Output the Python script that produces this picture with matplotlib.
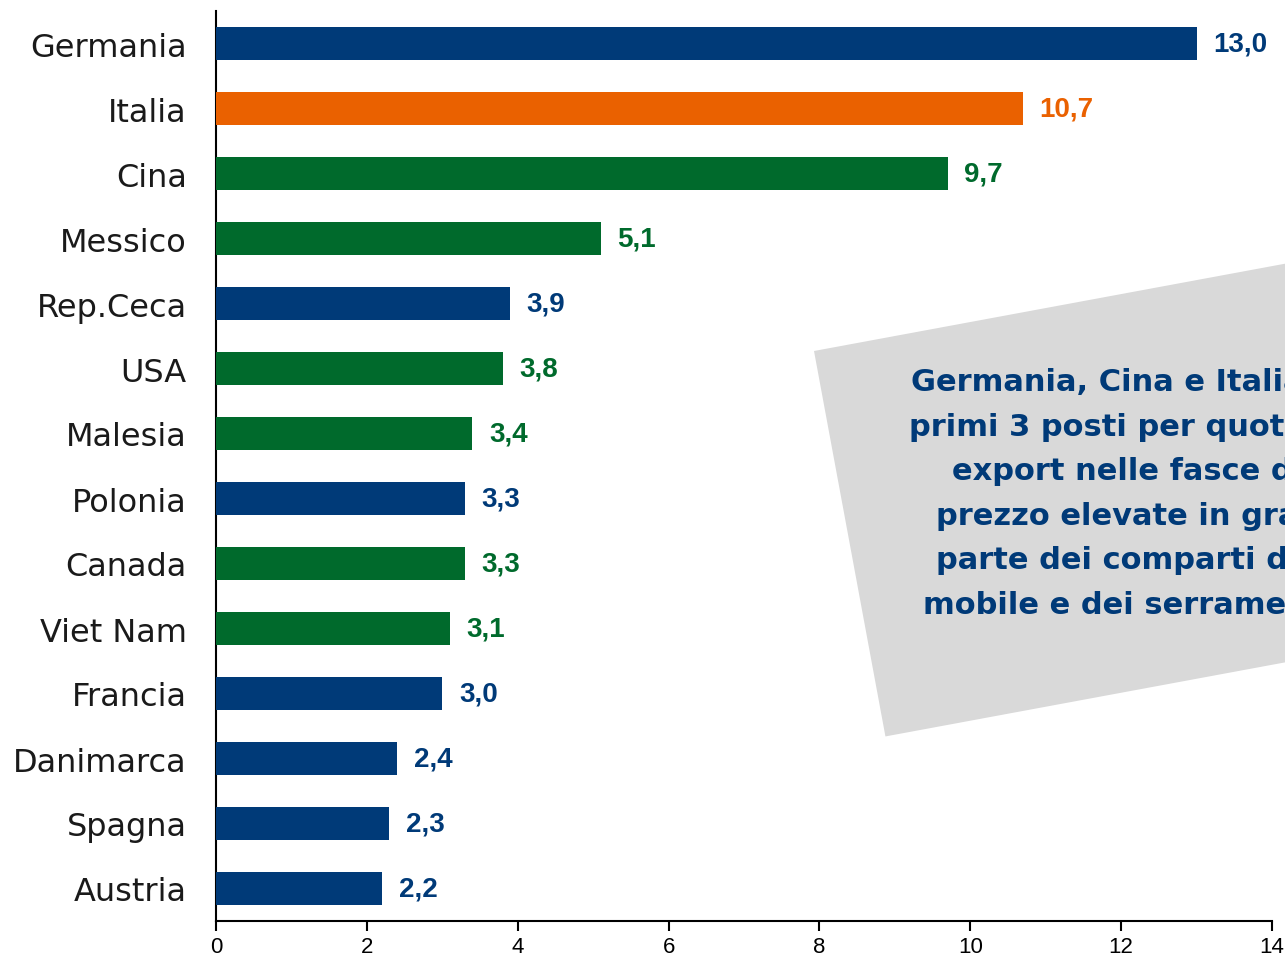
import numpy as np
import matplotlib.pyplot as plt
from matplotlib.patches import Polygon

# dati: quota export per paese
paesi = ['Germania', 'Italia', 'Cina', 'Messico', 'Rep.Ceca', 'USA', 'Malesia',
         'Polonia', 'Canada', 'Viet Nam', 'Francia', 'Danimarca', 'Spagna', 'Austria']
valori = [13.0, 10.7, 9.7, 5.1, 3.9, 3.8, 3.4, 3.3, 3.3, 3.1, 3.0, 2.4, 2.3, 2.2]
gruppi = ['ue', 'ita', 'extra', 'extra', 'ue', 'extra', 'extra',
          'ue', 'extra', 'extra', 'ue', 'ue', 'ue', 'ue']
xticks = [0, 2, 4, 6, 8, 10, 12, 14]
nota = ('Germania, Cina e Italia ai\nprimi 3 posti per quota di\nexport nelle fasce di\n'
        'prezzo elevate in gran\nparte dei comparti del\nmobile e dei serramenti')

colori = {'ue': '#003A78', 'ita': '#EA6100', 'extra': '#006A2C'}

W, H = 1285, 962
fig = plt.figure(figsize=(W / 100, H / 100), dpi=100)
ax = fig.add_axes([216 / W, 40 / H, (1272 - 216) / W, (922 - 12) / H])

y = np.arange(len(paesi))
col = [colori[g] for g in gruppi]
ax.barh(y, valori, height=0.5, color=col, zorder=3)

for yi, v, c in zip(y, valori, col):
    ax.text(v + 0.22, yi, f'{v:.1f}'.replace('.', ','), va='center', ha='left',
            color=c, fontsize=20, fontweight='bold', family='Liberation Sans')

ax.set_ylim(len(paesi) - 0.5, -0.5)
ax.set_xlim(0, 14)
ax.set_yticks(y)
ax.set_yticklabels(paesi, fontsize=23, color='#1a1a1a', family='DejaVu Sans')
ax.set_xticks(xticks)
ax.set_xticklabels([str(t) for t in xticks], fontsize=16, family='Liberation Sans')
ax.tick_params(axis='y', length=0, pad=21)
ax.tick_params(axis='x', length=7, width=1.5, direction='out', pad=4)
for s in ['top', 'right']:
    ax.spines[s].set_visible(False)
ax.spines['left'].set_linewidth(1.5)
ax.spines['bottom'].set_linewidth(1.5)

# riquadro grigio ruotato con la nota
th = np.deg2rad(10.5)
u = np.array([np.cos(th), -np.sin(th)])
v = np.array([np.sin(th), np.cos(th)])
tl = np.array([814, 352])
w, h = 567, 392
pts = [tl, tl + w * u, tl + w * u + h * v, tl + h * v]
pts = [(p[0] / W, 1 - p[1] / H) for p in pts]
fig.patches.append(Polygon(pts, closed=True, facecolor='#D9D9D9', edgecolor='none',
                           transform=fig.transFigure, zorder=0))
fig.text(1128 / W, 1 - 494 / H, nota, ha='center', va='center', fontsize=22,
         fontweight='bold', color='#003A78', linespacing=1.68, family='DejaVu Sans')

fig.savefig('out.png', dpi=100)
